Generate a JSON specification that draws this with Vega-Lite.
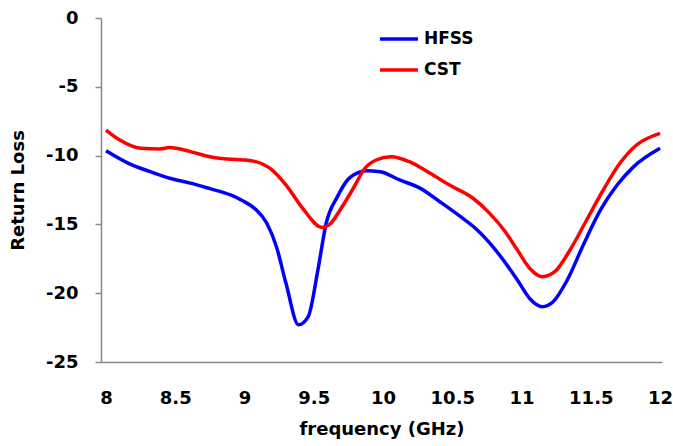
{
  "$schema": "https://vega.github.io/schema/vega-lite/v6.json",
  "autosize": "none",
  "width": 561,
  "height": 344,
  "padding": {"left": 101, "top": 18, "right": 11, "bottom": 84},
  "background": "white",
  "config": {
    "view": {"stroke": null},
    "font": "DejaVu Sans"
  },
  "data": {
    "values": [
      {"series": "HFSS", "f": 8.0, "rl": -9.65},
      {"series": "HFSS", "f": 8.17, "rl": -10.6},
      {"series": "HFSS", "f": 8.32, "rl": -11.17},
      {"series": "HFSS", "f": 8.46, "rl": -11.65},
      {"series": "HFSS", "f": 8.61, "rl": -12.0},
      {"series": "HFSS", "f": 8.75, "rl": -12.4},
      {"series": "HFSS", "f": 8.9, "rl": -12.86},
      {"series": "HFSS", "f": 8.99, "rl": -13.3},
      {"series": "HFSS", "f": 9.08, "rl": -13.9},
      {"series": "HFSS", "f": 9.16, "rl": -14.9},
      {"series": "HFSS", "f": 9.23, "rl": -16.6},
      {"series": "HFSS", "f": 9.3, "rl": -19.3},
      {"series": "HFSS", "f": 9.39, "rl": -22.3},
      {"series": "HFSS", "f": 9.46, "rl": -21.7},
      {"series": "HFSS", "f": 9.53, "rl": -18.3},
      {"series": "HFSS", "f": 9.59, "rl": -14.9},
      {"series": "HFSS", "f": 9.67, "rl": -13.0},
      {"series": "HFSS", "f": 9.75, "rl": -11.7},
      {"series": "HFSS", "f": 9.82, "rl": -11.24},
      {"series": "HFSS", "f": 9.88, "rl": -11.1},
      {"series": "HFSS", "f": 9.98, "rl": -11.17},
      {"series": "HFSS", "f": 10.12, "rl": -11.77},
      {"series": "HFSS", "f": 10.27, "rl": -12.38},
      {"series": "HFSS", "f": 10.41, "rl": -13.35},
      {"series": "HFSS", "f": 10.56, "rl": -14.44},
      {"series": "HFSS", "f": 10.68, "rl": -15.4},
      {"series": "HFSS", "f": 10.8, "rl": -16.7},
      {"series": "HFSS", "f": 10.97, "rl": -19.04},
      {"series": "HFSS", "f": 11.06, "rl": -20.4},
      {"series": "HFSS", "f": 11.15, "rl": -20.98},
      {"series": "HFSS", "f": 11.23, "rl": -20.6},
      {"series": "HFSS", "f": 11.33, "rl": -19.04},
      {"series": "HFSS", "f": 11.45, "rl": -16.4},
      {"series": "HFSS", "f": 11.57, "rl": -13.95},
      {"series": "HFSS", "f": 11.69, "rl": -12.14},
      {"series": "HFSS", "f": 11.81, "rl": -10.8},
      {"series": "HFSS", "f": 12.0, "rl": -9.47},
      {"series": "CST", "f": 8.0, "rl": -8.14},
      {"series": "CST", "f": 8.1, "rl": -8.87},
      {"series": "CST", "f": 8.25, "rl": -9.47},
      {"series": "CST", "f": 8.39, "rl": -9.52},
      {"series": "CST", "f": 8.46, "rl": -9.42},
      {"series": "CST", "f": 8.61, "rl": -9.71},
      {"series": "CST", "f": 8.75, "rl": -10.08},
      {"series": "CST", "f": 8.82, "rl": -10.2},
      {"series": "CST", "f": 8.97, "rl": -10.3},
      {"series": "CST", "f": 9.08, "rl": -10.44},
      {"series": "CST", "f": 9.2, "rl": -11.05},
      {"series": "CST", "f": 9.3, "rl": -12.14},
      {"series": "CST", "f": 9.42, "rl": -13.83},
      {"series": "CST", "f": 9.56, "rl": -15.22},
      {"series": "CST", "f": 9.62, "rl": -14.95},
      {"series": "CST", "f": 9.69, "rl": -13.95},
      {"series": "CST", "f": 9.79, "rl": -12.3},
      {"series": "CST", "f": 9.86, "rl": -11.05},
      {"series": "CST", "f": 9.95, "rl": -10.32},
      {"series": "CST", "f": 10.06, "rl": -10.08},
      {"series": "CST", "f": 10.19, "rl": -10.44},
      {"series": "CST", "f": 10.34, "rl": -11.29},
      {"series": "CST", "f": 10.48, "rl": -12.14},
      {"series": "CST", "f": 10.65, "rl": -13.1},
      {"series": "CST", "f": 10.77, "rl": -14.2},
      {"series": "CST", "f": 10.88, "rl": -15.5},
      {"series": "CST", "f": 10.97, "rl": -16.86},
      {"series": "CST", "f": 11.06, "rl": -18.2},
      {"series": "CST", "f": 11.15, "rl": -18.8},
      {"series": "CST", "f": 11.24, "rl": -18.44},
      {"series": "CST", "f": 11.35, "rl": -16.86},
      {"series": "CST", "f": 11.47, "rl": -14.68},
      {"series": "CST", "f": 11.59, "rl": -12.5},
      {"series": "CST", "f": 11.71, "rl": -10.56},
      {"series": "CST", "f": 11.83, "rl": -9.23},
      {"series": "CST", "f": 12.0, "rl": -8.38}
    ]
  },
  "mark": {"type": "line", "strokeWidth": 3.5, "interpolate": "monotone"},
  "encoding": {
    "x": {
      "field": "f",
      "type": "quantitative",
      "scale": {"domain": [7.964, 12.014], "nice": false, "zero": false},
      "axis": {
        "title": "frequency (GHz)",
        "values": [8, 8.5, 9, 9.5, 10, 10.5, 11, 11.5, 12],
        "labelExpr": "datum.value + ''",
        "ticks": false,
        "grid": false,
        "domainColor": "#888888",
        "domainWidth": 1.5,
        "labelFont": "DejaVu Sans",
        "labelFontWeight": "bold",
        "labelFontSize": 18,
        "labelColor": "black",
        "labelPadding": 27,
        "labelFlush": false,
        "labelOverlap": false,
        "titleFont": "DejaVu Sans",
        "titleFontWeight": "bold",
        "titleFontSize": 18,
        "titleColor": "black",
        "titlePadding": 13
      }
    },
    "y": {
      "field": "rl",
      "type": "quantitative",
      "scale": {"domain": [-25, 0], "nice": false},
      "axis": {
        "title": "Return Loss",
        "values": [-25, -20, -15, -10, -5, 0],
        "labelExpr": "datum.value + ''",
        "grid": false,
        "tickSize": 6,
        "tickColor": "#888888",
        "tickWidth": 1.5,
        "domainColor": "#888888",
        "domainWidth": 1.5,
        "labelFont": "DejaVu Sans",
        "labelFontWeight": "bold",
        "labelFontSize": 18,
        "labelColor": "black",
        "labelPadding": 17,
        "titleFont": "DejaVu Sans",
        "titleFontWeight": "bold",
        "titleFontSize": 18,
        "titleColor": "black",
        "titlePadding": 18
      }
    },
    "color": {
      "field": "series",
      "type": "nominal",
      "sort": ["HFSS", "CST"],
      "scale": {"domain": ["HFSS", "CST"], "range": ["#0000FF", "#FF0000"]},
      "legend": {
        "title": null,
        "orient": "none",
        "legendX": 277,
        "legendY": 0,
        "symbolType": "stroke",
        "symbolSize": 1444,
        "symbolStrokeWidth": 3.5,
        "labelFont": "DejaVu Sans",
        "labelFontWeight": "bold",
        "labelFontSize": 17,
        "labelColor": "black",
        "labelOffset": 4,
        "rowPadding": 2
      }
    }
  }
}
